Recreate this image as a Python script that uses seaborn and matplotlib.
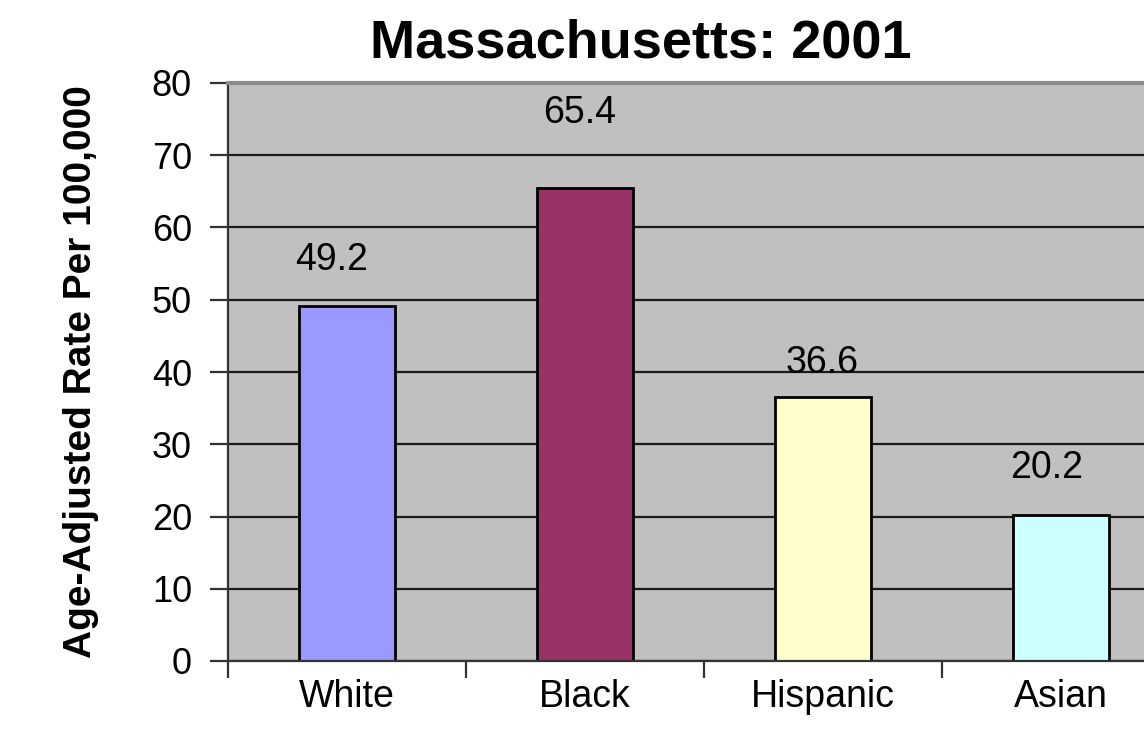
import matplotlib
matplotlib.use("Agg")
import matplotlib.pyplot as plt
import seaborn as sns
import pandas as pd

# Chart data
groups = ["White", "Black", "Hispanic", "Asian"]
rates = [49.2, 65.4, 36.6, 20.2]
bar_colors = ["#9999FF", "#993366", "#FFFFCC", "#CCFFFF"]
y_ticks = [0, 10, 20, 30, 40, 50, 60, 70, 80]

title_text = "Massachusetts: 2001"
y_label = "Age-Adjusted Rate Per 100,000"

# Label nudges (pixels) relative to each bar top centre
label_dx = [-15, -5, -1, -14]
label_dy = [46, 75, 34, 47]

sns.set_theme(style="white")
plt.rcParams["font.family"] = ["Liberation Sans", "DejaVu Sans"]
plt.rcParams["text.color"] = "black"
plt.rcParams["axes.labelcolor"] = "black"

df = pd.DataFrame({"group": groups, "rate": rates})

W, H = 1144, 754
fig = plt.figure(figsize=(W / 100, H / 100), dpi=100)
fig.patch.set_facecolor("white")

# Plot area: left edge at 228 px, spans 952 px (runs past the right edge)
ax = fig.add_axes([228 / W, 93 / H, 952 / W, 578 / H])
ax.set_facecolor("#C0C0C0")

sns.barplot(data=df, x="group", y="rate", hue="group", order=groups,
            hue_order=groups, palette=bar_colors, width=0.4,
            edgecolor="black", linewidth=2, saturation=1, legend=False, ax=ax)

ax.set_xlim(-0.5, 3.5)
ax.set_ylim(0, 80)
ax.set_yticks(y_ticks)
ax.set_yticklabels([str(t) for t in y_ticks])

ax.set_axisbelow(True)
ax.yaxis.grid(True, color="#1a1a1a", linewidth=1.6)
ax.xaxis.grid(False)

for side in ["left", "bottom"]:
    ax.spines[side].set_color("#333333")
    ax.spines[side].set_linewidth(1.6)
ax.spines["top"].set_color("#8c8c8c")
ax.spines["top"].set_linewidth(3)
ax.spines["right"].set_visible(False)

# Category ticks sit between the bars
ax.set_xticks([i + 0.5 for i in range(-1, len(groups))], minor=True)
ax.tick_params(axis="x", which="minor", bottom=True, length=12, width=1.6,
               color="#333333", direction="out")
ax.tick_params(axis="x", which="major", bottom=True, length=0, pad=13,
               labelsize=27, labelcolor="black")
ax.tick_params(axis="y", which="major", left=True, length=13, width=1.6,
               color="#333333", direction="out", pad=13, labelsize=26,
               labelcolor="black")
ax.set_xlabel("")
ax.set_ylabel(y_label, fontsize=28, fontweight="bold")
ax.yaxis.set_label_coords((99 - 228) / 952, 0.5)

for i, (v, dx, dy) in enumerate(zip(rates, label_dx, label_dy)):
    ax.annotate(f"{v:.1f}", xy=(i, v), xytext=(dx * 0.72, dy * 0.72),
                textcoords="offset points", ha="center", va="center",
                fontsize=27, color="black")

fig.text(641 / W, 1 - 44 / H, title_text, ha="center", va="center",
         fontsize=39, fontweight="bold", color="black")

fig.savefig("out.png", dpi=100)
